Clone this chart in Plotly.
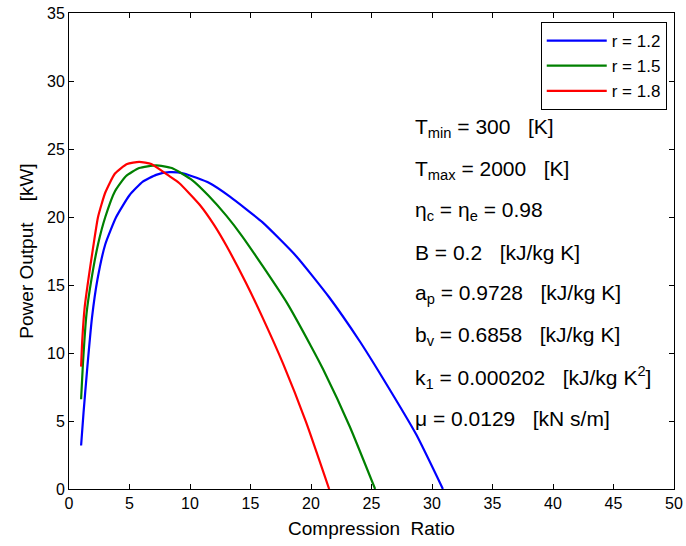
import plotly.graph_objects as go

# Data
blue_x = [1.0, 1.2, 1.5, 1.9, 2.35, 3.0, 3.9, 5.0, 6.1, 7.2, 8.3, 9.5, 11.6, 13.3, 16.0, 18.8, 21.5, 24.0, 25.9, 28.7, 30.9]
blue_y = [3.2, 5.6, 8.8, 12.6, 15.4, 18.0, 20.0, 21.6, 22.6, 23.1, 23.3, 23.2, 22.5, 21.5, 19.6, 17.1, 14.1, 10.9, 8.2, 4.0, 0.0]

green_x = [1.0, 1.15, 1.45, 1.85, 2.4, 3.0, 3.8, 4.7, 5.8, 7.2, 8.5, 10.2, 11.5, 13.0, 14.3, 16.0, 18.0, 20.0, 21.0, 23.2, 25.3]
green_y = [6.6, 9.2, 12.9, 15.4, 18.0, 20.0, 21.9, 23.0, 23.6, 23.8, 23.6, 22.7, 21.6, 20.1, 18.6, 16.4, 13.7, 10.5, 8.8, 4.6, 0.0]

red_x = [1.0, 1.1, 1.3, 1.6, 2.0, 2.4, 3.0, 3.8, 4.8, 5.8, 6.8, 8.3, 9.1, 10.8, 12.0, 13.0, 14.6, 16.0, 17.7, 19.6, 21.5]
red_y = [9.0, 11.0, 13.4, 15.4, 17.8, 20.0, 21.8, 23.2, 23.9, 24.05, 23.9, 23.0, 22.5, 20.9, 19.4, 17.9, 15.2, 12.6, 9.2, 4.9, 0.0]

series_names = ["r = 1.2", "r = 1.5", "r = 1.8"]
series_colors = ["#0000ff", "#008000", "#ff0000"]

x_ticks = [0, 5, 10, 15, 20, 25, 30, 35, 40, 45, 50]
y_ticks = [0, 5, 10, 15, 20, 25, 30, 35]

SP = "\u00a0\u00a0\u00a0"
param_lines = [
    "T<sub>min</sub> = 300" + SP + "[K]",
    "T<sub>max</sub> = 2000" + SP + "[K]",
    "η<sub>c</sub> = η<sub>e</sub> = 0.98",
    "B = 0.2" + SP + "[kJ/kg K]",
    "a<sub>p</sub> = 0.9728" + SP + "[kJ/kg K]",
    "b<sub>v</sub> = 0.6858" + SP + "[kJ/kg K]",
    "k<sub>1</sub> = 0.000202" + SP + "[kJ/kg K<sup>2</sup>]",
    "μ = 0.0129" + SP + "[kN s/m]",
]

FONT = "Liberation Sans, Arial, Helvetica, sans-serif"

fig = go.Figure()
for xs, ys, name, col in zip([blue_x, green_x, red_x], [blue_y, green_y, red_y], series_names, series_colors):
    fig.add_trace(go.Scatter(x=xs, y=ys, mode="lines", name=name,
                             line=dict(color=col, width=2.2, shape="spline", smoothing=0.5)))

# parameter text block (paper coords relative to the plot area)
top_py = 128
step = 41.5
for i, t in enumerate(param_lines):
    py = top_py + i * step
    fig.add_annotation(text=t, xref="paper", yref="paper",
                       x=(413 - 69) / 605, y=(489 - py) / 476,
                       xanchor="left", yanchor="middle", showarrow=False,
                       font=dict(family=FONT, size=21, color="black"))

axis_common = dict(showgrid=False, zeroline=False, showline=True, linecolor="black", linewidth=1,
                   mirror="ticks", ticks="inside", ticklen=5, tickcolor="black", automargin=False,
                   tickfont=dict(family=FONT, size=16, color="black"))

fig.update_xaxes(range=[0, 50], tickvals=x_ticks,
                 title=dict(text="Compression\u00a0\u00a0Ratio", font=dict(family=FONT, size=19, color="black"), standoff=10),
                 **axis_common)
fig.update_yaxes(range=[0, 35], tickvals=y_ticks,
                 title=dict(text="Power Output\u00a0\u00a0\u00a0\u00a0[kW]", font=dict(family=FONT, size=19, color="black"), standoff=8),
                 **axis_common)

fig.update_layout(
    width=686, height=546,
    margin=dict(l=69, r=12, t=13, b=57),
    paper_bgcolor="white", plot_bgcolor="white",
    font=dict(family=FONT, color="black"),
    legend=dict(x=0.988, y=0.981, xanchor="right", yanchor="top",
                bgcolor="white", bordercolor="black", borderwidth=1,
                font=dict(family=FONT, size=17, color="black"),
                tracegroupgap=0, itemwidth=60),
)

# remove the default 8px page margin so the 686x546 figure fills the window exactly
fig.write_html("out.html", config={"displayModeBar": False},
               post_script="document.body.style.margin='0';")
